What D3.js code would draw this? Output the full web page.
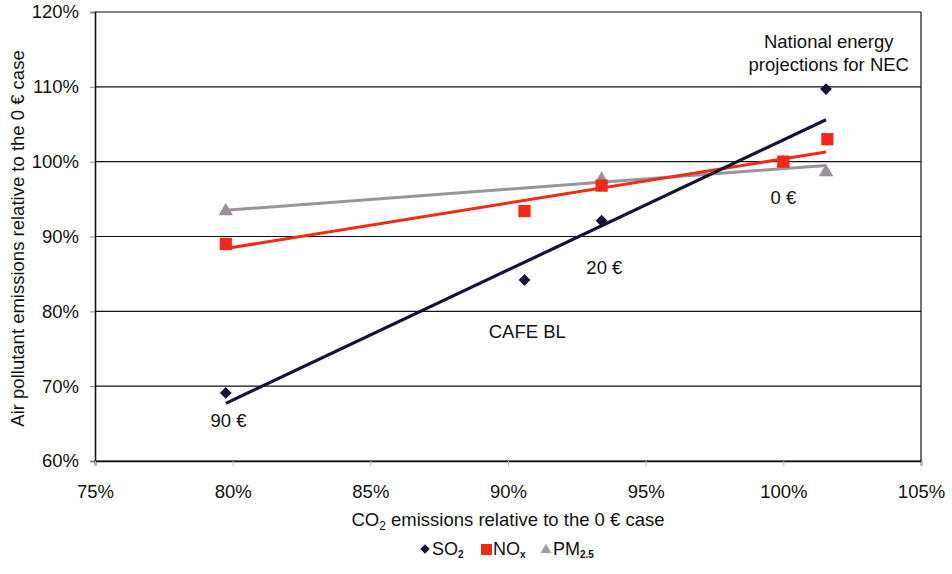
<!DOCTYPE html>
<html>
<head>
<meta charset="utf-8">
<script src="https://cdn.jsdelivr.net/npm/d3@7/dist/d3.min.js"></script>
<style>
  body { margin: 0; background: #fff; }
  svg text { font-family: "Liberation Sans", Arial, sans-serif; fill: #111; }
</style>
</head>
<body>
<div id="chart"></div>
<script>
// values (percent of the 0 € case)
const so2X = [79.75, 90.6, 93.4, 101.55];
const so2Y = [69.1, 84.2, 92.1, 109.7];
const noxX = [79.75, 90.6, 93.4, 100.0, 101.6];
const noxY = [89.0, 93.4, 96.8, 100.0, 103.0];
const pmX = [79.75, 93.4, 100.0, 101.55];
const pmY = [93.4, 97.6, 99.9, 98.6];

// trendline ends as drawn
const trendX = [79.75, 101.55];
const so2Trend = [67.7, 105.6];
const noxTrend = [88.4, 101.3];
const pmTrend = [93.5, 99.5];

const xTicks = [75, 80, 85, 90, 95, 100, 105];
const yTicks = [60, 70, 80, 90, 100, 110, 120];

const notes = [
  { x: 100.0, y: 94.4, text: "0 €" },
  { x: 93.5, y: 85.0, text: "20 €" },
  { x: 90.7, y: 76.4, text: "CAFE BL" },
  { x: 79.85, y: 64.5, text: "90 €" }
];

(function () {
  const width = 952, height = 574;
  const margin = { top: 12, right: 31, bottom: 113, left: 95 };
  const w = width - margin.left - margin.right;
  const h = height - margin.top - margin.bottom;
  const fs = "18.5px";

  const svg = d3.select("#chart").append("svg")
    .attr("width", width)
    .attr("height", height);

  const plot = svg.append("g")
    .attr("transform", `translate(${margin.left},${margin.top})`);

  const x = d3.scaleLinear().domain([75, 105]).range([0, w]);
  const y = d3.scaleLinear().domain([60, 120]).range([h, 0]);

  // horizontal grid
  plot.append("g")
    .selectAll("line")
    .data(yTicks)
    .join("line")
    .attr("x1", 0).attr("x2", w)
    .attr("y1", d => y(d)).attr("y2", d => y(d))
    .attr("stroke", "#111")
    .attr("stroke-width", 1.2);

  // right border
  plot.append("line")
    .attr("x1", w).attr("x2", w)
    .attr("y1", 0).attr("y2", h)
    .attr("stroke", "#111")
    .attr("stroke-width", 1.2);

  const yAxis = plot.append("g")
    .call(d3.axisLeft(y).tickValues(yTicks).tickSize(5).tickPadding(11).tickFormat(d => d + "%"));
  yAxis.select(".domain").attr("stroke", "#111").attr("stroke-width", 1.6);
  yAxis.selectAll(".tick line").attr("stroke", "#888");
  yAxis.selectAll("text").style("font-size", fs);

  const xAxis = plot.append("g")
    .attr("transform", `translate(0,${h})`)
    .call(d3.axisBottom(x).tickValues(xTicks).tickSize(5).tickPadding(19).tickFormat(d => d + "%"));
  xAxis.select(".domain").attr("stroke", "#111").attr("stroke-width", 1.6);
  xAxis.selectAll(".tick line").attr("stroke", "#bbb");
  xAxis.selectAll("text").style("font-size", fs);

  // trendlines
  const trends = [
    { v: pmTrend, color: "#9b929c", width: 3 },
    { v: noxTrend, color: "#f02a14", width: 3 },
    { v: so2Trend, color: "#141432", width: 3.2 }
  ];
  const line = d3.line().x(d => x(d[0])).y(d => y(d[1]));
  plot.selectAll(".trend")
    .data(trends)
    .join("path")
    .attr("fill", "none")
    .attr("stroke", d => d.color)
    .attr("stroke-width", d => d.width)
    .attr("d", d => line(trendX.map((t, i) => [t, d.v[i]])));

  // markers
  const sym = (type, size) => d3.symbol().type(type).size(size)();

  plot.selectAll(".pm")
    .data(pmX.map((v, i) => [v, pmY[i]]))
    .join("path")
    .attr("transform", d => `translate(${x(d[0])},${y(d[1])})`)
    .attr("d", sym(d3.symbolTriangle, 90))
    .attr("fill", "#9b919c");

  plot.selectAll(".nox")
    .data(noxX.map((v, i) => [v, noxY[i]]))
    .join("path")
    .attr("transform", d => `translate(${x(d[0])},${y(d[1])})`)
    .attr("d", sym(d3.symbolSquare, 150))
    .attr("fill", "#ee2a1a");

  plot.selectAll(".so2")
    .data(so2X.map((v, i) => [v, so2Y[i]]))
    .join("path")
    .attr("transform", d => `translate(${x(d[0])},${y(d[1])}) rotate(45)`)
    .attr("d", sym(d3.symbolSquare, 70))
    .attr("fill", "#141432");

  // annotations
  plot.selectAll(".note")
    .data(notes)
    .join("text")
    .attr("x", d => x(d.x))
    .attr("y", d => y(d.y))
    .attr("text-anchor", "middle")
    .style("font-size", fs)
    .text(d => d.text);

  const nec = plot.append("text")
    .attr("text-anchor", "middle")
    .style("font-size", fs);
  nec.append("tspan").attr("x", x(101.65)).attr("y", y(115.2)).text("National energy");
  nec.append("tspan").attr("x", x(101.65)).attr("y", y(112.1)).text("projections for NEC");

  // axis titles
  const xt = svg.append("text")
    .attr("x", margin.left + w / 2)
    .attr("y", 526)
    .attr("text-anchor", "middle")
    .style("font-size", fs);
  xt.append("tspan").text("CO");
  xt.append("tspan").attr("dy", 4).style("font-size", "12px").text("2");
  xt.append("tspan").attr("dy", -4).text(" emissions relative to the 0 € case");

  svg.append("text")
    .attr("transform", `translate(24,${margin.top + h / 2 + 2}) rotate(-90)`)
    .attr("text-anchor", "middle")
    .style("font-size", fs)
    .text("Air pollutant emissions relative to the 0 € case");

  // legend
  const legend = svg.append("g").attr("transform", "translate(0,549)");
  legend.append("path")
    .attr("transform", "translate(425,0) rotate(45)")
    .attr("d", sym(d3.symbolSquare, 45))
    .attr("fill", "#141432");
  const l1 = legend.append("text").attr("x", 432).attr("y", 6).style("font-size", "18px");
  l1.append("tspan").text("SO");
  l1.append("tspan").attr("dy", 3).style("font-size", "10px").style("font-weight", "bold").text("2");

  legend.append("rect")
    .attr("x", 481).attr("y", -5).attr("width", 11).attr("height", 11)
    .attr("fill", "#ee2a1a");
  const l2 = legend.append("text").attr("x", 493).attr("y", 6).style("font-size", "18px");
  l2.append("tspan").text("NO");
  l2.append("tspan").attr("dy", 3).style("font-size", "10px").style("font-weight", "bold").text("x");

  legend.append("path")
    .attr("transform", "translate(546,1)")
    .attr("d", sym(d3.symbolTriangle, 50))
    .attr("fill", "#a09aa2");
  const l3 = legend.append("text").attr("x", 553).attr("y", 6).style("font-size", "18px");
  l3.append("tspan").text("PM");
  l3.append("tspan").attr("dy", 3).style("font-size", "10px").style("font-weight", "bold").text("2.5");
})();
</script>
</body>
</html>
